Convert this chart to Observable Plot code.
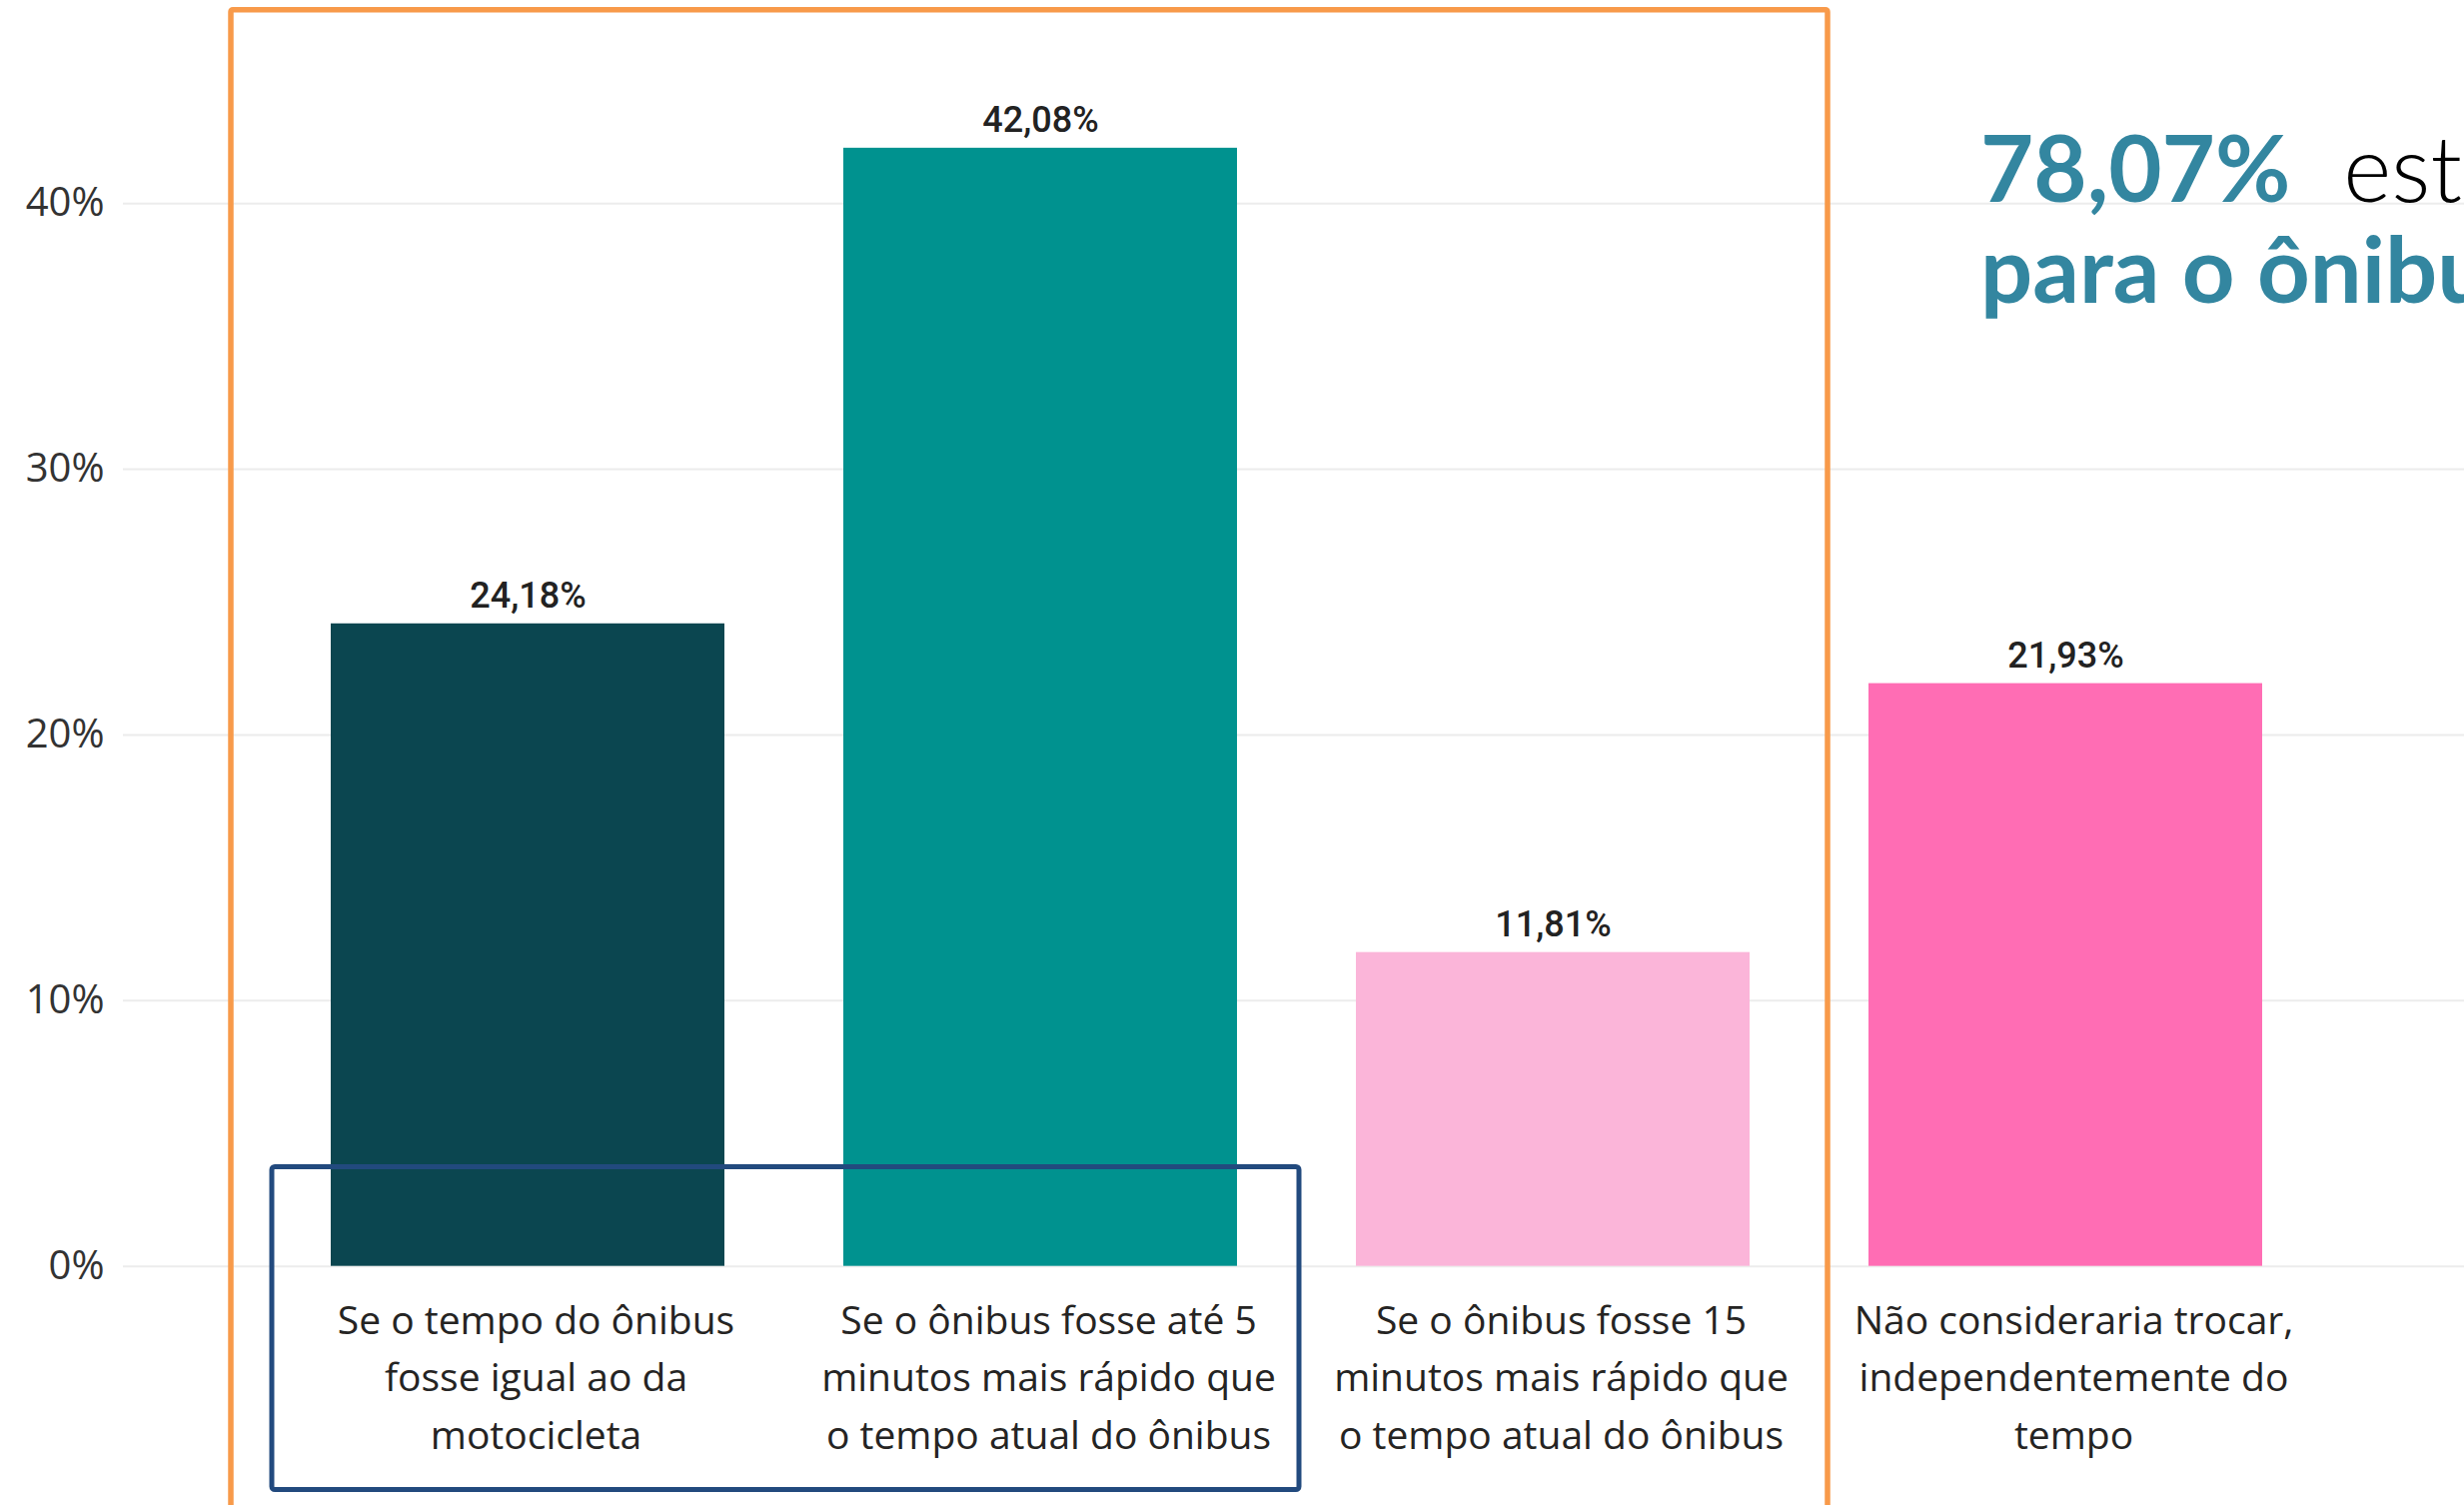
<!DOCTYPE html>
<html><head><meta charset="utf-8">
<script src="https://cdn.jsdelivr.net/npm/d3@7"></script>
<script src="https://cdn.jsdelivr.net/npm/@observablehq/plot@0.6"></script>
<style>
html,body{margin:0;padding:0;background:#fff;overflow:hidden;}
#wrap{position:relative;width:2466px;height:1506px;overflow:hidden;}
#chart{position:absolute;left:0;top:0;}
#title{position:absolute;left:1982px;top:116px;font-family:Lato,"Open Sans",sans-serif;font-size:92px;line-height:101px;color:#3386A0;font-weight:700;white-space:pre;z-index:2;}
#title .light{font-family:"Lato Light",Lato,sans-serif;font-weight:300;color:#000;margin-left:28px;}
</style></head><body>
<div id="wrap"><div id="chart"></div>
<div id="title"><span>78,07%</span><span class="light"> est</span><br><span>para o ônibu</span></div>
</div>
<script>
const categories = [
  "Se o tempo do ônibus fosse igual ao da motocicleta",
  "Se o ônibus fosse até 5 minutos mais rápido que o tempo atual do ônibus",
  "Se o ônibus fosse 15 minutos mais rápido que o tempo atual do ônibus",
  "Não consideraria trocar, independentemente do tempo"
];
const tickLabels = [
  "Se o tempo do ônibus\nfosse igual ao da\nmotocicleta",
  "Se o ônibus fosse até 5\nminutos mais rápido que\no tempo atual do ônibus",
  "Se o ônibus fosse 15\nminutos mais rápido que\no tempo atual do ônibus",
  "Não consideraria trocar,\nindependentemente do\ntempo"
];
const values = [24.18, 42.08, 11.81, 21.93];
const barColors = ["#0B4650", "#00928F", "#FBB5D9", "#FF6DB4"];
const yTicks = [0, 10, 20, 30, 40];

const data = categories.map((c, i) => ({category: c, value: values[i]}));
const fmt = v => v.toFixed(2).replace(".", ",") + "%";

const plot = Plot.plot({
  width: 2466, height: 1506,
  marginLeft: 123, marginRight: 0, marginTop: 0, marginBottom: 239.3,
  style: {background: "transparent", fontFamily: "'Open Sans', sans-serif"},
  x: {domain: categories, range: [123, 2471], paddingInner: 0.2322, paddingOuter: 0.4009, align: 0.5, axis: null},
  y: {domain: [0, 47.64], axis: null},
  color: {domain: categories, range: barColors},
  marks: [
    Plot.gridY(yTicks, {stroke: "#ececec", strokeOpacity: 1, strokeWidth: 2}),
    Plot.axisY(yTicks, {label: null, tickSize: 0, tickPadding: 19, tickFormat: d => d + "%", fontSize: 40, fontFamily: "'Open Sans', sans-serif", fill: "#333"}),
    Plot.barY(data, {x: "category", y: "value", fill: "category"}),
    Plot.text(data, {x: "category", y: "value", text: d => fmt(d.value), lineAnchor: "bottom", dy: -16, fontSize: 36, fontWeight: 500, fontFamily: "Roboto, sans-serif", fill: "#222"}),
    Plot.axisX({label: null, tickSize: 0, tickPadding: 27, tickFormat: c => tickLabels[categories.indexOf(c)], fontSize: 39, lineHeight: 1.47, dx: 8, fontFamily: "'Open Sans', sans-serif", fill: "#252423"})
  ]
});
document.getElementById("chart").appendChild(plot);

// annotation boxes positioned from the scales
const xs = plot.scale("x"), ys = plot.scale("y");
const bw = xs.bandwidth;
const svg = d3.select(plot);
const x0 = xs.apply(categories[0]);
const x1end = xs.apply(categories[1]) + bw;
const x2end = xs.apply(categories[2]) + bw;
const yZero = ys.apply(0);
svg.append("rect")
  .attr("x", x0 - 100).attr("y", 9.7)
  .attr("width", x2end + 78 - (x0 - 100)).attr("height", 1700)
  .attr("rx", 2).attr("fill", "none").attr("stroke", "#F89A4A").attr("stroke-width", 5.5);
svg.append("rect")
  .attr("x", x0 - 59).attr("y", yZero - 99.2)
  .attr("width", x1end + 62 - (x0 - 59)).attr("height", 323)
  .attr("rx", 3).attr("fill", "none").attr("stroke", "#224A7E").attr("stroke-width", 5);
</script>
</body></html>
